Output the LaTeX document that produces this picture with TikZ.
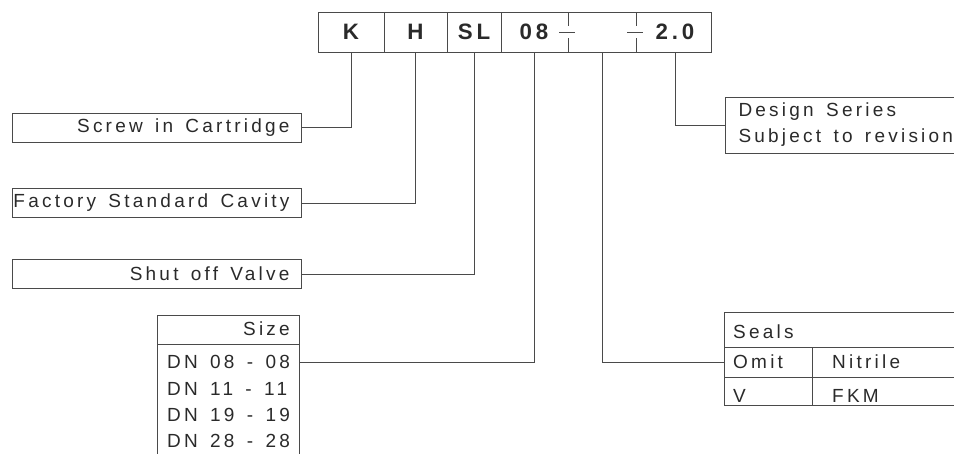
\documentclass[tikz,border=0pt]{standalone}
\usepackage{fontspec}
\setmainfont{Liberation Sans}[LetterSpace=17,WordSpace=1.45]
\usetikzlibrary{positioning}
\definecolor{linegray}{HTML}{4A4A4A}
\definecolor{textgray}{HTML}{2A2A2A}
\newcommand{\rname}[1]{\makebox[266pt][r]{#1}}
\tikzset{
  every node/.style={text=textgray, inner sep=0pt},
  codefield/.style={minimum height=40, font=\fontsize{22.3}{24}\selectfont\bfseries},
  namebox/.style={draw=linegray, line width=1pt, minimum height=29, inner xsep=11.5,
    font=\fontsize{19}{21}\selectfont},
  tabtext/.style={font=\fontsize{19}{21}\selectfont},
  leader/.style={draw=linegray, line width=1pt}
}

\begin{document}
\begin{tikzpicture}[x=1pt,y=-1pt]
\clip (0,0) rectangle (954,453);
% type code
\draw[leader] (318,12) rectangle (711,52);
\foreach \x in {384,447,501} \draw[leader] (\x,12) -- (\x,52);
\foreach \x in {568,636}
  \draw[leader] (\x,12) -- (\x,26) (\x,38) -- (\x,52) (\x-9,32) -- (\x+7,32);
\node[codefield, minimum width=66] (K) at (351,32) {K};
\node[codefield, minimum width=63] (H) at (415.5,32) {H};
\node[codefield, minimum width=54] (SL) at (474,32) {SL};
\node[codefield] (size) at (534,32) {08};
\node[codefield] (seal) at (602,32) {};
\node[codefield] (rev) at (675,32) {2.0};
% left side
\node[namebox] (cart) at (156.5,127.5) {\rname{Screw in Cartridge}};
\node[namebox] (cavity) at (156.5,203) {\rname{Factory Standard Cavity}};
\node[namebox] (valve) at (156.5,274) {\rname{Shut off Valve}};
\draw[leader] (K.south) |- (cart.east);
\draw[leader] (H.south) |- (cavity.east);
\draw[leader] (SL.south) |- (valve.east);
% size table
\draw[leader] (157,460) |- (299,315) -- (299,460);
\draw[leader] (157,344) -- (299,344);
\node[tabtext, anchor=east] (sizehead) at (290,329) {Size};
\node[tabtext, anchor=west, inner xsep=10, minimum height=26] (dn08) at (157,362)
  {\makebox[122pt][l]{DN 08 - 08}};
\node[tabtext, anchor=west] (dn11) at (167,389) {DN 11 - 11};
\node[tabtext, anchor=west] (dn19) at (167,415) {DN 19 - 19};
\node[tabtext, anchor=west] (dn28) at (167,441) {DN 28 - 28};
\draw[leader] (size.south) |- (dn08.east);
% seals table
\draw[leader] (970,312) -| (724,405) -- (970,405);
\draw[leader] (724,347) -- (970,347) (724,377) -- (970,377);
\draw[leader] (812,347) -- (812,405);
\node[tabtext, anchor=west] (sealhead) at (733,332) {Seals};
\node[tabtext, anchor=west, inner xsep=9, minimum height=30] (omit) at (724,362)
  {\makebox[70pt][l]{Omit}};
\node[tabtext, anchor=west] (nitrile) at (832,362) {Nitrile};
\node[tabtext, anchor=west] (viton) at (733,396) {V};
\node[tabtext, anchor=west] (fkm) at (832,396) {FKM};
\draw[leader] (seal.south) |- (omit.west);
% design series
\node[draw=linegray, line width=1pt, anchor=west, minimum height=56,
  inner xsep=13, tabtext] (design) at (725,125)
  {\makebox[260pt][l]{\begin{tabular}{@{}l@{}}Design Series\\[5pt]Subject to revision\end{tabular}}};
\draw[leader] (rev.south) |- (design.west);
\end{tikzpicture}
\end{document}
